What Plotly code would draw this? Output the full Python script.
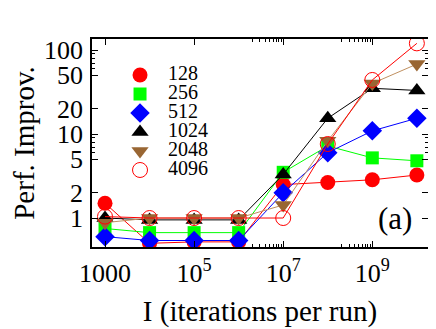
import plotly.graph_objects as go

# iterations per run (x) and performance improvement per batch size
iters = [1e3, 1e4, 1e5, 1e6, 1e7, 1e8, 1e9, 1e10]
labels = ['128', '256', '512', '1024', '2048', '4096']
perf_128 = [1.5, 0.5, 0.52, 0.52, 2.5, 2.65, 2.85, 3.25]
perf_256 = [0.75, 0.67, 0.67, 0.67, 3.5, 7.2, 5.2, 4.8]
perf_512 = [0.6, 0.54, 0.54, 0.54, 2.0, 6.0, 10.9, 15.4]
perf_1024 = [1.0, 0.95, 0.95, 0.95, 3.3, 15.4, 35, 33]
perf_2048 = [0.88, 1.0, 1.0, 1.0, 1.43, 8.3, 40, 68]
perf_4096 = [1.04, 1.0, 1.0, 1.0, 1.0, 7.6, 44, 120]

xtick_vals = [1e3, 1e5, 1e7, 1e9]
xtick_text = ['1000', '10<sup>5</sup>', '10<sup>7</sup>', '10<sup>9</sup>']
ytick_vals = [1, 2, 5, 10, 20, 50, 100]

series = [perf_128, perf_256, perf_512, perf_1024, perf_2048, perf_4096]

# marker styles, same order as labels
styles = [
    dict(symbol='circle', size=15, color='#ff0000', line=dict(width=0)),
    dict(symbol='square', size=13, color='#00ff00', line=dict(width=0)),
    dict(symbol='diamond', size=15, color='#0000ff', line=dict(width=0)),
    dict(symbol='triangle-up', size=15, color='#000000', line=dict(width=0)),
    dict(symbol='triangle-down', size=15, color='#996633', line=dict(width=0)),
    dict(symbol='circle-open', size=15, color='#ff0000', line=dict(width=1)),
]
line_colors = ['#ff0000', '#00ff00', '#0000ff', '#000000', '#c09060', '#ff0000']

FONT = 'Liberation Serif'

fig = go.Figure()

for lab, vals, st, lc in zip(labels, series, styles, line_colors):
    fig.add_trace(go.Scatter(
        x=iters, y=vals, mode='lines+markers',
        line=dict(color=lc, width=1),
        marker=st, showlegend=False, name=lab,
    ))

# key drawn on its own hidden axes: one row per series
for lab, st in zip(labels, styles):
    fig.add_trace(go.Scatter(
        x=[0.167], y=[lab], mode='markers', marker=st,
        xaxis='x2', yaxis='y2', showlegend=False, hoverinfo='skip',
    ))
fig.add_trace(go.Scatter(
    x=[0.40] * len(labels), y=labels, mode='text', text=labels,
    textposition='middle right',
    textfont=dict(family=FONT, size=20, color='black'),
    xaxis='x2', yaxis='y2', showlegend=False, hoverinfo='skip',
))

fig.add_annotation(
    x=0.903, y=0.139, xref='paper', yref='paper',
    text='(a)', showarrow=False, xanchor='center', yanchor='middle',
    font=dict(family=FONT, size=31, color='black'),
)

# the page body keeps an 8px margin, so the figure is 8px smaller
# and its margins are shifted to land the frame where the original has it
fig.update_layout(
    width=428, height=321,
    margin=dict(l=84, r=8, t=31, b=82),
    plot_bgcolor='white', paper_bgcolor='white',
    font=dict(family=FONT, color='black'),
    showlegend=False,
    xaxis=dict(
        type='log', range=[2.708, 10.25], automargin=False,
        tickvals=xtick_vals, ticktext=xtick_text,
        tickfont=dict(family=FONT, size=26),
        ticks='inside', ticklen=6, tickwidth=1, tickcolor='black',
        showline=True, linecolor='black', linewidth=1.5, mirror='ticks',
        showgrid=False, zeroline=False, ticklabelstandoff=2,
        title=dict(text='I (iterations per run)', font=dict(family=FONT, size=29), standoff=14),
        minor=dict(ticks='inside', ticklen=3, tickcolor='black',
                   tickvals=[2e6, 3e6, 4e6, 5e6, 6e6, 7e6, 8e6, 9e6,
                             2e8, 3e8, 4e8, 5e8, 6e8, 7e8, 8e8, 9e8]),
    ),
    yaxis=dict(
        type='log', range=[-0.345, 2.131], automargin=False,
        tickvals=ytick_vals,
        tickfont=dict(family=FONT, size=26),
        ticks='inside', ticklen=6, tickwidth=1, tickcolor='black',
        showline=True, linecolor='black', linewidth=1.5, mirror='ticks',
        showgrid=False, zeroline=False, ticklabelstandoff=2,
        title=dict(text='Perf. Improv.', font=dict(family=FONT, size=29), standoff=10),
        minor=dict(ticks='inside', ticklen=3, tickcolor='black',
                   tickvals=[6, 7, 8, 9, 60, 70, 80, 90]),
    ),
    xaxis2=dict(domain=[0.0833, 0.4405], range=[0, 1], anchor='y2',
                visible=False, fixedrange=True),
    yaxis2=dict(domain=[0.3245, 0.8726], range=[5.5, -0.5], anchor='x2',
                type='category', visible=False, fixedrange=True),
)

fig.write_html('out.html')
